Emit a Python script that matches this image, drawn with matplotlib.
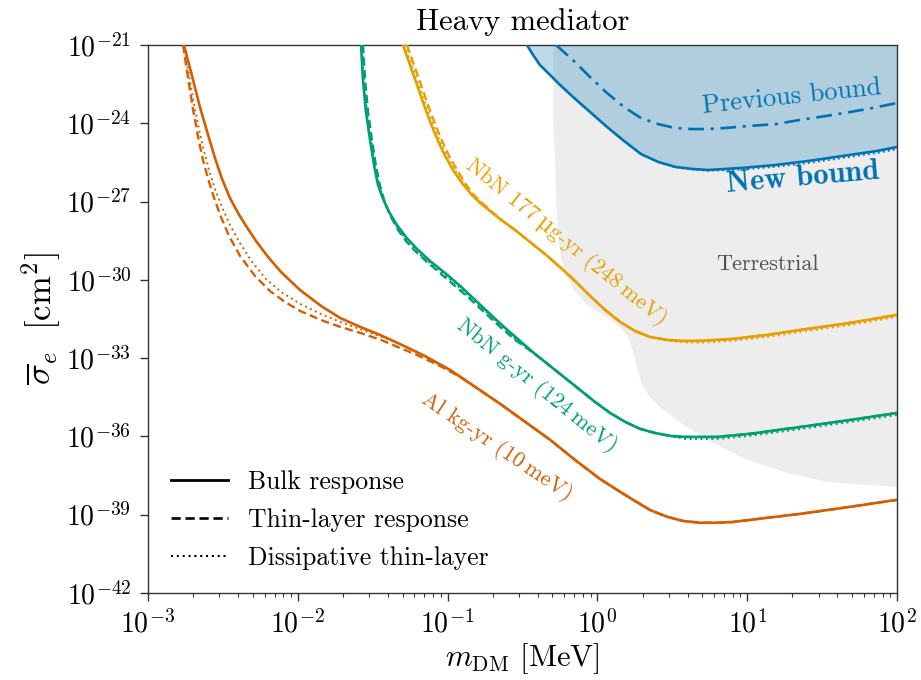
import numpy as np
import matplotlib
matplotlib.use("Agg")
import matplotlib.pyplot as plt
from matplotlib.lines import Line2D

plt.rcParams['font.family'] = ['cmr10', 'DejaVu Serif']
plt.rcParams['mathtext.fontset'] = 'cm'
plt.rcParams['axes.formatter.use_mathtext'] = True

# ---- curves, as log10(m_DM / MeV) and log10(sigma_e / cm^2) ----
# Al, kg-yr exposure
al_bulk_lm = [-2.760, -2.706, -2.653, -2.599, -2.553, -2.506, -2.453, -2.399, -2.346, -2.279,
              -2.199, -2.112, -1.985, -1.845, -1.718, -1.585, -1.451, -1.318, -1.151, -0.984,
              -0.817, -0.650, -0.483, -0.316, -0.150, 0.017, 0.131, 0.238, 0.351, 0.465,
              0.571, 0.685, 0.798, 0.905, 1.132, 1.352, 1.686, 2.0]
al_bulk_ls = [-21.00, -22.19, -23.38, -24.45, -25.33, -26.13, -26.86, -27.44, -27.93, -28.51,
              -29.12, -29.70, -30.39, -31.00, -31.46, -31.80, -32.11, -32.46, -32.92, -33.45,
              -34.10, -34.75, -35.44, -36.13, -36.90, -37.63, -38.05, -38.43, -38.82, -39.08,
              -39.24, -39.31, -39.31, -39.28, -39.12, -38.97, -38.70, -38.43]
al_thin_lm = [-2.766, -2.733, -2.700, -2.666, -2.633, -2.599, -2.559, -2.513, -2.459, -2.386,
              -2.286, -2.186, -2.085, -1.985, -1.845, -1.718, -1.585, -1.445, -1.318, -1.204,
              -1.051, -0.917] + al_bulk_lm[20:]
al_thin_ls = [-21.00, -22.26, -23.45, -24.52, -25.41, -26.13, -26.86, -27.59, -28.32, -29.08,
              -29.85, -30.43, -30.85, -31.19, -31.54, -31.80, -32.03, -32.30, -32.61, -32.88,
              -33.30, -33.72] + al_bulk_ls[20:]
al_diss_lm = [-2.760, -2.726, -2.693, -2.660, -2.626, -2.593, -2.553, -2.506, -2.453, -2.386,
              -2.306, -2.212, -2.112, -1.985, -1.845, -1.718, -1.551, -1.385, -1.204, -1.051,
              -0.917] + al_bulk_lm[20:]
al_diss_ls = [-21.00, -22.19, -23.26, -24.22, -25.06, -25.79, -26.52, -27.21, -27.90, -28.59,
              -29.31, -29.97, -30.46, -30.92, -31.31, -31.61, -31.96, -32.30, -32.76, -33.26,
              -33.72] + al_bulk_ls[20:]

# NbN, g-yr exposure
nbn_g_bulk_lm = [-1.578, -1.565, -1.545, -1.518, -1.491, -1.465, -1.431, -1.391, -1.338, -1.278,
                 -1.204, -1.117, -1.017, -0.917, -0.817, -0.717, -0.617, -0.517, -0.417, -0.316,
                 -0.216, -0.116, -0.016, 0.084, 0.184, 0.284, 0.385, 0.485, 0.585, 0.798,
                 1.019, 1.352, 1.686, 2.0]
nbn_g_bulk_ls = [-21.00, -22.34, -23.57, -24.64, -25.60, -26.36, -26.90, -27.40, -27.90, -28.36,
                 -28.82, -29.28, -29.74, -30.23, -30.77, -31.31, -31.84, -32.34, -32.84, -33.30,
                 -33.76, -34.22, -34.68, -35.10, -35.44, -35.71, -35.87, -35.98, -36.02, -36.02,
                 -35.90, -35.64, -35.37, -35.10]
nbn_g_thin_lm = [-1.565, -1.551, -1.531, -1.505, -1.478, -1.451, -1.418, -1.378, -1.331, -1.278,
                 -1.211, -1.138, -1.051, -0.951, -0.851, -0.750, -0.650, -0.550, -0.417] + nbn_g_bulk_lm[19:]
nbn_g_thin_ls = [-21.00, -22.34, -23.57, -24.64, -25.64, -26.40, -27.05, -27.59, -28.09, -28.51,
                 -28.93, -29.31, -29.74, -30.23, -30.73, -31.27, -31.80, -32.30, -32.84] + nbn_g_bulk_ls[19:]
nbn_g_diss_lm = [-1.571, -1.558, -1.538, -1.511, -1.485, -1.458, -1.425, -1.385, -1.338, -1.284,
                 -1.218, -1.138, -1.051, -0.951, -0.851, -0.750, -0.650, -0.550, -0.417, -0.316,
                 -0.216, -0.116, -0.016, 0.084, 0.184, 0.284, 0.385, 0.485, 0.585, 0.798,
                 1.019, 1.352, 1.686, 2.0]
nbn_g_diss_ls = [-21.00, -22.34, -23.57, -24.64, -25.60, -26.36, -26.98, -27.49, -27.97, -28.41,
                 -28.85, -29.26, -29.66, -30.14, -30.66, -31.19, -31.73, -32.25, -32.84, -33.30,
                 -33.76, -34.22, -34.68, -35.10, -35.44, -35.71, -35.87, -35.98, -36.10, -36.10,
                 -35.98, -35.72, -35.45, -35.18]

# NbN, 177 ug-yr exposure
nbn_ug_bulk_lm = [-1.298, -1.251, -1.204, -1.158, -1.111, -1.064, -1.017, -0.964, -0.904, -0.844,
                  -0.784, -0.717, -0.650, -0.550, -0.450, -0.350, -0.250, -0.150, -0.049, 0.051,
                  0.151, 0.251, 0.351, 0.465, 0.571, 0.685, 0.905, 1.132, 1.352, 1.686, 2.0]
nbn_ug_bulk_ls = [-21.00, -21.77, -22.53, -23.30, -24.03, -24.68, -25.25, -25.79, -26.29, -26.71,
                  -27.05, -27.36, -27.67, -28.09, -28.55, -29.01, -29.51, -30.04, -30.62, -31.15,
                  -31.61, -31.96, -32.19, -32.30, -32.34, -32.34, -32.26, -32.11, -31.92, -31.65, -31.34]
nbn_ug_thin_lm = [-1.271, -1.224, -1.177, -1.131, -1.084, -1.037, -0.990, -0.937, -0.884, -0.831,
                  -0.771, -0.710] + nbn_ug_bulk_lm[12:]
nbn_ug_thin_ls = nbn_ug_bulk_ls
nbn_ug_diss_lm = [-1.285, -1.238, -1.191, -1.145, -1.098, -1.051, -1.004, -0.951, -0.894, -0.837,
                  -0.777, -0.713] + nbn_ug_bulk_lm[12:]
nbn_ug_diss_ls = nbn_ug_bulk_ls[:23] + [-32.33, -32.39, -32.41, -32.34, -32.19, -32.00, -31.73, -31.42]

# exclusion bounds
new_bound_lm = [-0.470, -0.430, -0.383, -0.316, -0.250, -0.163, -0.049, 0.064, 0.178, 0.291,
                0.405, 0.518, 0.632, 0.738, 0.852, 0.965, 1.186, 1.413, 1.640, 1.867, 2.0]
new_bound_ls = [-21.00, -21.38, -21.77, -22.15, -22.53, -22.99, -23.57, -24.14, -24.68, -25.18,
                -25.48, -25.67, -25.75, -25.79, -25.75, -25.71, -25.60, -25.44, -25.25, -25.06, -24.91]
new_bound_diss_ls = [-21.00, -21.38, -21.77, -22.15, -22.53, -22.99, -23.57, -24.14, -24.68, -25.18,
                     -25.48, -25.68, -25.77, -25.82, -25.80, -25.77, -25.67, -25.52, -25.33, -25.14, -24.99]

prev_bound_lm = [-0.276, -0.216, -0.150, -0.049, 0.064, 0.178, 0.291, 0.405, 0.518, 0.625,
                 0.738, 0.852, 1.019, 1.192, 1.352, 1.526, 1.686, 1.867, 2.0]
prev_bound_ls = [-21.00, -21.31, -21.65, -22.23, -22.84, -23.38, -23.80, -24.03, -24.18, -24.22,
                 -24.22, -24.18, -24.10, -24.03, -23.87, -23.72, -23.57, -23.38, -23.22]

terr_lm = [-0.296, -0.296, -0.283, -0.276, -0.263, -0.243, -0.210, -0.156, -0.069, 0.051,
           0.151, 0.204, 0.238, 0.264, 0.298, 0.351, 0.431, 0.598, 0.772, 0.999,
           1.266, 1.533, 1.800, 2.0]
terr_ls = [-21.00, -23.87, -25.41, -26.94, -28.28, -29.16, -29.81, -30.39, -30.96, -31.38,
           -31.80, -32.19, -32.76, -33.38, -34.03, -34.52, -34.95, -35.64, -36.25, -36.90,
           -37.40, -37.74, -37.86, -37.93]

legend_labels = ["Bulk response", "Thin-layer response", "Dissipative thin-layer"]

C_AL = "#D55E00"
C_G = "#009E73"
C_UG = "#E69F00"
C_B = "#0072B2"

DASH = (0, (3.5, 1.8))
DOT = (0, (1, 1.8))


def p(v):
    return 10.0 ** np.asarray(v)


fig = plt.figure(figsize=(9.21, 6.80), dpi=100)
ax = fig.add_axes([0.1607, 0.128, 0.8133, 0.8058])
ax.set_xscale('log')
ax.set_yscale('log')

# terrestrial region
tx = list(p(terr_lm)) + [1e2]
ty = list(p(terr_ls)) + [1e-21]
ax.fill(tx, ty, color="#ededed", lw=0, zorder=0)

# excluded region above the new bound
ax.fill_between(p(new_bound_lm), p(new_bound_ls), 1e-21, color=C_B, alpha=0.25, lw=0, zorder=1)

lw = 1.9
ax.plot(p(prev_bound_lm), p(prev_bound_ls), color=C_B, lw=lw, ls=(0, (6, 2.5, 1.2, 2.5)), zorder=3)
ax.plot(p(new_bound_lm), p(new_bound_diss_ls), color=C_B, lw=1.3, ls=DOT, zorder=3)
ax.plot(p(new_bound_lm), p(new_bound_ls), color=C_B, lw=lw, zorder=3)

for col, b, t, d in [
    (C_AL, (al_bulk_lm, al_bulk_ls), (al_thin_lm, al_thin_ls), (al_diss_lm, al_diss_ls)),
    (C_G, (nbn_g_bulk_lm, nbn_g_bulk_ls), (nbn_g_thin_lm, nbn_g_thin_ls), (nbn_g_diss_lm, nbn_g_diss_ls)),
    (C_UG, (nbn_ug_bulk_lm, nbn_ug_bulk_ls), (nbn_ug_thin_lm, nbn_ug_thin_ls), (nbn_ug_diss_lm, nbn_ug_diss_ls)),
]:
    ax.plot(p(d[0]), p(d[1]), color=col, lw=1.4, ls=DOT, zorder=3)
    ax.plot(p(t[0]), p(t[1]), color=col, lw=1.7, ls=DASH, zorder=3)
    ax.plot(p(b[0]), p(b[1]), color=col, lw=lw, zorder=4)

ax.set_xlim(1e-3, 1e2)
ax.set_ylim(1e-42, 1e-21)
ax.set_yticks([10.0 ** k for k in range(-42, -20, 3)])
ax.yaxis.set_minor_locator(matplotlib.ticker.NullLocator())
ax.set_yticklabels([r"$10^{%d}$" % k for k in range(-42, -20, 3)])
ax.set_xticks([10.0 ** k for k in range(-3, 3)])
ax.set_xticklabels([r"$10^{%d}$" % k for k in range(-3, 3)])
ax.tick_params(which='both', direction='out', labelsize=20, colors='#333333', labelcolor='black')
ax.tick_params(which='major', length=6, width=1.0, pad=6)
ax.tick_params(which='minor', length=3, width=0.8)
for s in ax.spines.values():
    s.set_color('#333333')
    s.set_linewidth(1.0)

ax.set_xlabel(r"$m_{\mathrm{DM}}$ [MeV]", fontsize=22, labelpad=2)
ax.set_ylabel(r"$\overline{\sigma}_e\ \ [\mathrm{cm}^2]$", fontsize=25, labelpad=2)
ax.set_title("Heavy mediator", fontsize=22, pad=11)

# annotations
ax.text(10 ** -0.210, 10 ** -28.55, "NbN 177\u2009\u03bcg-yr (248\u2009meV)", color=C_UG, fontsize=16,
        rotation=-39, ha='center', va='center', zorder=5)
ax.text(10 ** -0.403, 10 ** -34.07, "NbN g-yr (124\u2009meV)", color=C_G, fontsize=16,
        rotation=-39, ha='center', va='center', zorder=5)
ax.text(10 ** -0.670, 10 ** -36.40, "Al kg-yr (10\u2009meV)", color=C_AL, fontsize=16,
        rotation=-34, ha='center', va='center', zorder=5)
ax.text(10 ** 1.132, 10 ** -29.39, "Terrestrial", color="#505050", fontsize=16,
        ha='center', va='center', zorder=5)
ax.text(10 ** 1.299, 10 ** -22.99, "Previous bound", color=C_B, fontsize=19,
        rotation=6, ha='center', va='center', zorder=5)
ax.text(10 ** 1.372, 10 ** -26.10, "New bound", color=C_B, fontsize=22, family='cmb10',
        rotation=5, ha='center', va='center', zorder=5)

handles = [Line2D([], [], color='black', lw=2.0, ls='-'),
           Line2D([], [], color='black', lw=1.9, ls=DASH),
           Line2D([], [], color='black', lw=1.5, ls=DOT)]
ax.legend(handles, legend_labels, loc='lower left', frameon=False, fontsize=18.5,
          handlelength=2.2, labelspacing=0.55, handletextpad=0.8,
          borderpad=0.4, borderaxespad=0.5)

fig.savefig("out.png", dpi=100)
